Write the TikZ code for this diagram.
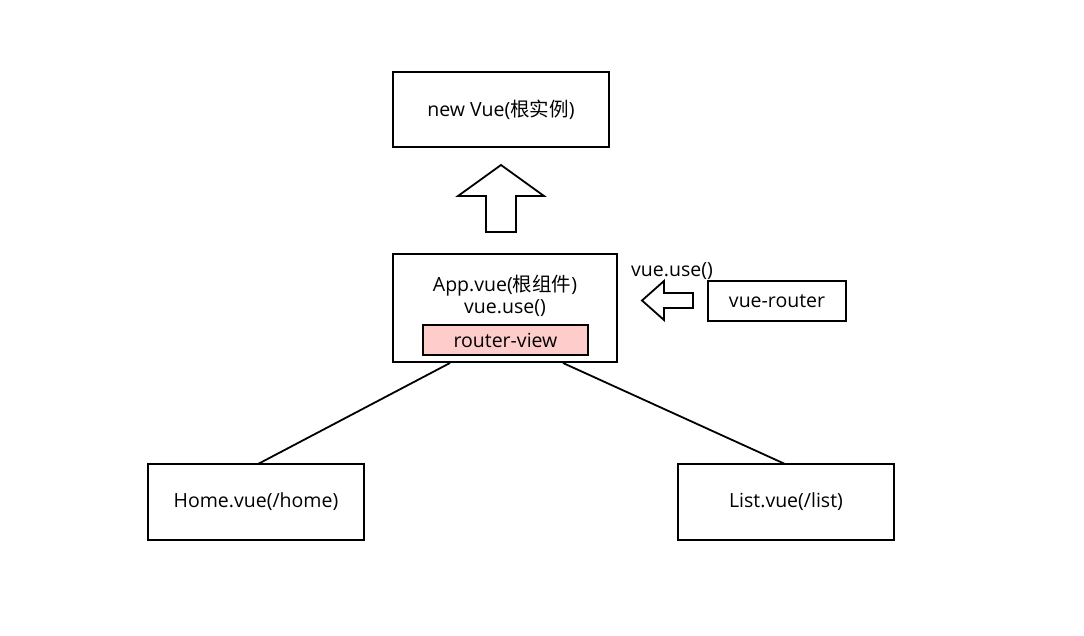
\documentclass[tikz,border=0pt]{standalone}
\usepackage{fontspec}
\setmainfont{Open Sans}
\newfontfamily\cjk{Noto Sans CJK SC}
\begin{document}
\begin{tikzpicture}[x=1pt,y=-1pt,
  box/.style={draw=black,line width=1.8pt,fill=white,inner sep=0pt},
  lbl/.style={font=\fontsize{19.5}{22}\selectfont,inner sep=0pt},
  conn/.style={draw=black,line width=1.8pt},
  fat/.style={draw=black,line width=1.8pt,fill=white,line join=miter}]
\useasboundingbox (0,0) rectangle (1084,636);
\fill[white] (0,0) rectangle (1084,636);
% boxes
\node[box,minimum width=216pt,minimum height=75pt] (root) at (501,109.5) {};
\node[lbl] (rootT) at (root.center) {new Vue({\cjk 根实例})};
\node[box,minimum width=224pt,minimum height=108pt] (app) at (505,308) {};
\node[lbl] (appT1) at (505,286) {App.vue({\cjk 根组件})};
\node[lbl] (appT2) at (505,308) {vue.use()};
\node[box,fill={rgb,255:red,255;green,204;blue,204},minimum width=165pt,minimum height=30pt] (rv) at (505.5,340) {};
\node[lbl] (rvT) at (rv.center) {router-view};
\node[box,minimum width=138pt,minimum height=40pt] (vr) at (777,301) {};
\node[lbl] (vrT) at (vr.center) {vue-router};
\node[lbl] (useT) at (672,271) {vue.use()};
\node[box,minimum width=216pt,minimum height=76pt] (home) at (256,502) {};
\node[lbl] (homeT) at (home.center) {Home.vue(/home)};
\node[box,minimum width=216pt,minimum height=76pt] (list) at (786,502) {};
\node[lbl] (listT) at (list.center) {List.vue(/list)};
% big up arrow
\draw[fat] (501,165) -- (544,196) -- (516,196) -- (516,232) -- (486,232) -- (486,196) -- (458,196) -- cycle;
% big left arrow
\draw[fat] (642,300.5) -- (664,281) -- (664,293) -- (693,293) -- (693,308) -- (664,308) -- (664,320) -- cycle;
% connectors
\coordinate (a1) at (450,363);
\coordinate (a2) at (563,363);
\coordinate (h1) at (258,464);
\coordinate (l1) at (785,464);
\draw[conn] (a1) -- (h1);
\draw[conn] (a2) -- (l1);
\end{tikzpicture}
\end{document}
